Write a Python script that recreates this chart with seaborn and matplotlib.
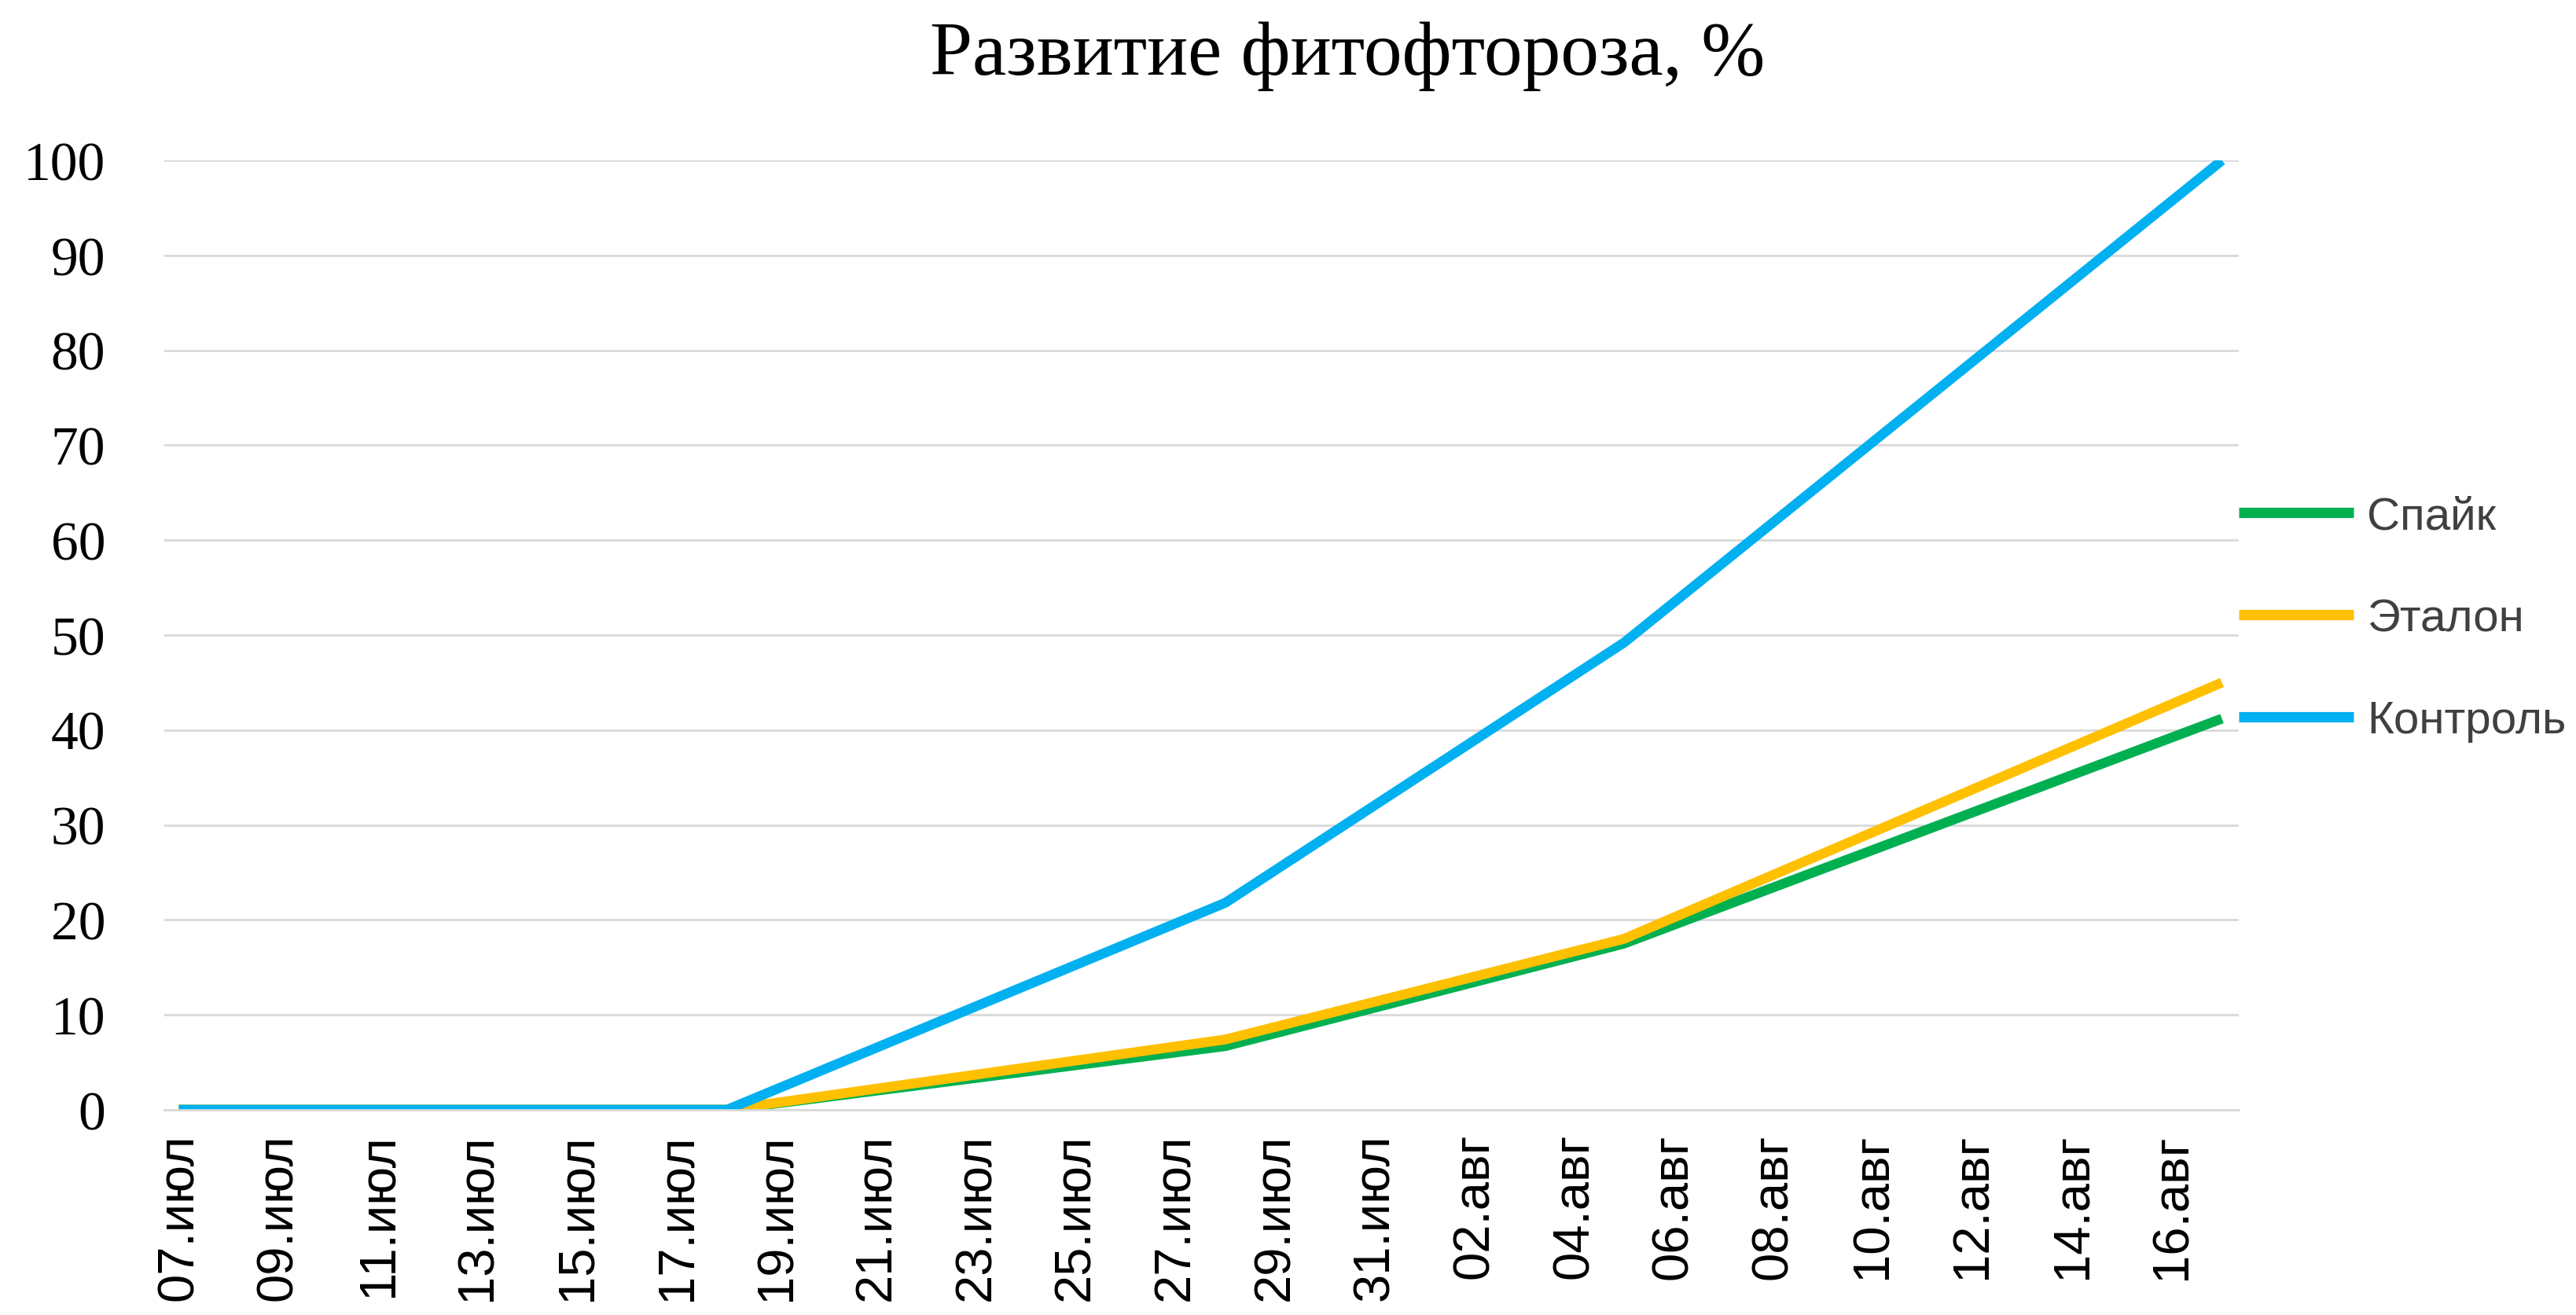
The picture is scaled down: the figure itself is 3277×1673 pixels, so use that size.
import pandas as pd
import seaborn as sns
import matplotlib.pyplot as plt

# values (percent of disease development)
dates = ['2020-07-07', '2020-07-18', '2020-07-28', '2020-08-05', '2020-08-17']
spike = [0, 0, 6.7, 17.5, 41.2]
etalon = [0, 0, 7.4, 18.0, 45.0]
control = [0, 0, 21.8, 49.2, 100]

series_names = ['Спайк', 'Эталон', 'Контроль']
series_colors = ['#00B050', '#FFC000', '#00B0F0']

tick_dates = ['2020-07-07', '2020-07-09', '2020-07-11', '2020-07-13', '2020-07-15',
              '2020-07-17', '2020-07-19', '2020-07-21', '2020-07-23', '2020-07-25',
              '2020-07-27', '2020-07-29', '2020-07-31', '2020-08-02', '2020-08-04',
              '2020-08-06', '2020-08-08', '2020-08-10', '2020-08-12', '2020-08-14',
              '2020-08-16']
tick_labels = ['07.июл', '09.июл', '11.июл', '13.июл', '15.июл', '17.июл', '19.июл',
               '21.июл', '23.июл', '25.июл', '27.июл', '29.июл', '31.июл', '02.авг',
               '04.авг', '06.авг', '08.авг', '10.авг', '12.авг', '14.авг', '16.авг']

df = pd.DataFrame({
    'date': pd.to_datetime(dates * 3),
    'value': spike + etalon + control,
    'series': [n for n in series_names for _ in dates],
})

sns.set_style('white')

fig = plt.figure(figsize=(32.77, 16.74), dpi=100)
ax = fig.add_axes([0.0638, 0.156, 0.869 - 0.0638, 0.8775 - 0.156])

sns.lineplot(data=df, x='date', y='value', hue='series', hue_order=series_names,
             palette=series_colors, linewidth=9, ax=ax, legend=False)

# axes look (Excel-like)
ax.set_ylim(0, 100)
ax.set_xlim(pd.Timestamp(dates[0]) - pd.Timedelta(hours=7),
            pd.Timestamp(dates[-1]) + pd.Timedelta(hours=8))
ax.set_yticks(range(0, 101, 10))
ax.set_yticklabels([str(v) for v in range(0, 101, 10)],
                   fontfamily='Liberation Serif', fontsize=50, color='black')
ax.set_xticks(pd.to_datetime(tick_dates))
ax.set_xticklabels(tick_labels, rotation=90, fontfamily='Liberation Sans',
                   fontsize=47, color='black')
ax.tick_params(axis='x', length=0, pad=21)
ax.tick_params(axis='y', length=0, pad=54)
ax.set_xlabel('')
ax.set_ylabel('')

ax.grid(axis='y', color='#D9D9D9', linewidth=2)
ax.grid(axis='x', visible=False)
ax.set_axisbelow(True)
for side in ['top', 'right', 'left']:
    ax.spines[side].set_visible(False)
ax.spines['bottom'].set_color('#D9D9D9')
ax.spines['bottom'].set_linewidth(2)

# legend to the right of the plot
handles = ax.get_lines()[:3]
for h in handles:
    h.set_solid_capstyle('butt')
leg = fig.legend(handles, series_names, loc='center left', bbox_to_anchor=(0.869, 0.529),
                 frameon=False, borderpad=0, borderaxespad=0, handlelength=2.5,
                 handletextpad=0.3, labelspacing=1.3,
                 prop={'family': 'Liberation Sans', 'size': 42})
for t in leg.get_texts():
    t.set_color('#404040')
for lh in leg.get_lines():
    lh.set_linewidth(9.5)

fig.text(0.523, 0.957, 'Развитие фитофтороза, %', ha='center', va='center',
         fontfamily='Liberation Serif', fontsize=70, color='black')

fig.savefig('out.png', dpi=100)
